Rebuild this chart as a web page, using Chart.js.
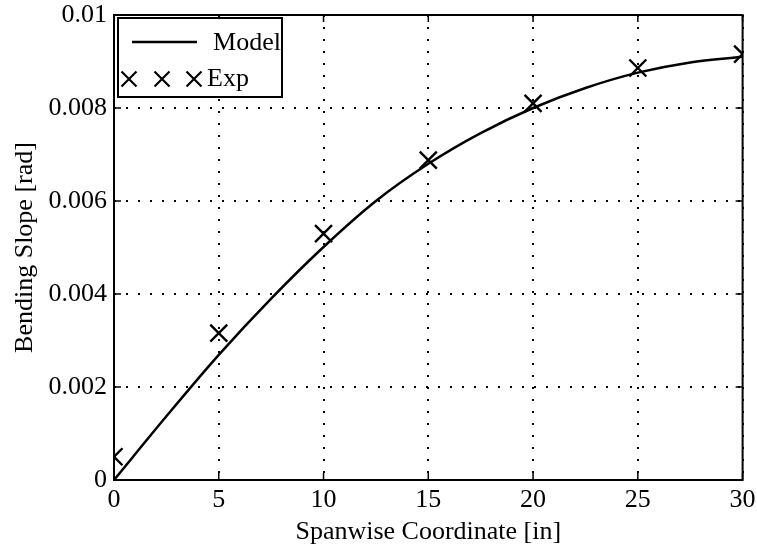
<!DOCTYPE html>
<html>
<head>
<meta charset="utf-8">
<script src="https://cdn.jsdelivr.net/npm/chart.js@4"></script>
<style>
  html, body { margin: 0; padding: 0; background: #fff; }
  #wrap { width: 757px; height: 550px; }
</style>
</head>
<body>
<div id="wrap"><canvas id="chart" width="757" height="550"></canvas></div>
<script>
// values
const modelX = [0, 2.5, 5, 7.5, 10, 12.5, 15, 17.5, 20, 22.5, 25, 27.5, 30];
const modelY = [0, 0.00137, 0.00269, 0.0039, 0.00501, 0.006, 0.0068, 0.00746, 0.008, 0.00843, 0.00876, 0.00898, 0.0091];
const expX = [0, 5, 10, 15, 20, 25, 30];
const expY = [0.0005, 0.00316, 0.0053, 0.00688, 0.0081, 0.00886, 0.00916];
const xTicks = [0, 5, 10, 15, 20, 25, 30];
const yTicks = [0, 0.002, 0.004, 0.006, 0.008, 0.01];
const labels = ['Model', 'Exp'];

const FONT = '"Liberation Serif", "Times New Roman", serif';

// frame, inward ticks and the boxed legend (matlab look)
const framePlugin = {
  id: 'frame',
  afterDatasetsDraw(chart) {
    const { ctx, chartArea: a, scales } = chart;
    ctx.save();
    ctx.strokeStyle = '#000';
    ctx.lineWidth = 2;
    ctx.strokeRect(a.left, a.top, a.right - a.left, a.bottom - a.top);

    ctx.lineWidth = 1.5;
    const t = 7;
    xTicks.forEach((v) => {
      const px = scales.x.getPixelForValue(v);
      ctx.beginPath();
      ctx.moveTo(px, a.bottom); ctx.lineTo(px, a.bottom - t);
      ctx.moveTo(px, a.top); ctx.lineTo(px, a.top + t);
      ctx.stroke();
    });
    yTicks.forEach((v) => {
      const py = scales.y.getPixelForValue(v);
      ctx.beginPath();
      ctx.moveTo(a.left, py); ctx.lineTo(a.left + t, py);
      ctx.moveTo(a.right, py); ctx.lineTo(a.right - t, py);
      ctx.stroke();
    });

    // legend box
    const bx = a.left + 4, by = a.top + 3, bw = 164, bh = 79;
    ctx.fillStyle = '#fff';
    ctx.fillRect(bx, by, bw, bh);
    ctx.lineWidth = 2;
    ctx.strokeRect(bx, by, bw, bh);

    ctx.fillStyle = '#000';
    ctx.font = '26px ' + FONT;
    ctx.textAlign = 'right';
    ctx.textBaseline = 'middle';
    ctx.fillText(labels[0], bx + bw - 1, by + 25);
    ctx.fillText(labels[1], bx + 131, by + 61);

    ctx.lineWidth = 2.5;
    ctx.beginPath();
    ctx.moveTo(bx + 14, by + 24); ctx.lineTo(bx + 79, by + 24);
    ctx.stroke();

    ctx.lineWidth = 2.2;
    [bx + 11, bx + 44, bx + 76].forEach((cx) => {
      const cy = by + 61, r = 7.5;
      ctx.beginPath();
      ctx.moveTo(cx - r, cy - r); ctx.lineTo(cx + r, cy + r);
      ctx.moveTo(cx - r, cy + r); ctx.lineTo(cx + r, cy - r);
      ctx.stroke();
    });
    ctx.restore();
  }
};

const noPad = (s) => { s.paddingLeft = 0; s.paddingRight = 0; s.paddingTop = 0; s.paddingBottom = 0; };

new Chart(document.getElementById('chart'), {
  type: 'scatter',
  data: {
    datasets: [
      {
        label: labels[0],
        type: 'line',
        data: modelX.map((x, i) => ({ x, y: modelY[i] })),
        borderColor: '#000',
        borderWidth: 2.5,
        pointRadius: 0,
        cubicInterpolationMode: 'monotone',
        fill: false
      },
      {
        label: labels[1],
        data: expX.map((x, i) => ({ x, y: expY[i] })),
        pointStyle: 'crossRot',
        pointRadius: 12,
        borderColor: '#000',
        borderWidth: 2.4,
        backgroundColor: '#000'
      }
    ]
  },
  options: {
    responsive: false,
    animation: false,
    layout: { padding: { left: 0, right: 11, top: 15, bottom: 0 } },
    plugins: {
      legend: { display: false },
      tooltip: { enabled: false }
    },
    scales: {
      x: {
        type: 'linear',
        min: 0,
        max: 30,
        afterBuildTicks: (s) => { s.ticks = xTicks.map((v) => ({ value: v })); },
        afterFit: (s) => { s.height = 70; noPad(s); },
        border: { display: false, dash: [2, 10] },
        grid: { color: '#000', lineWidth: 2, drawTicks: false },
        ticks: { color: '#000', font: { family: FONT, size: 26 }, padding: 5 },
        title: {
          display: true,
          text: 'Spanwise Coordinate [in]',
          color: '#000',
          font: { family: FONT, size: 26 },
          padding: { top: 0, bottom: 2 }
        }
      },
      y: {
        type: 'linear',
        min: 0,
        max: 0.01,
        afterBuildTicks: (s) => { s.ticks = yTicks.map((v) => ({ value: v })); },
        afterFit: (s) => { s.width = 114; noPad(s); },
        border: { display: false, dash: [2, 10] },
        grid: { color: '#000', lineWidth: 2, drawTicks: false },
        ticks: {
          color: '#000',
          font: { family: FONT, size: 26 },
          padding: 7,
          callback: (v) => String(Number(v.toFixed(3)))
        },
        title: {
          display: true,
          text: 'Bending Slope [rad]',
          color: '#000',
          font: { family: FONT, size: 26 },
          padding: { top: 10, bottom: 0 }
        }
      }
    }
  },
  plugins: [framePlugin]
});
</script>
</body>
</html>
